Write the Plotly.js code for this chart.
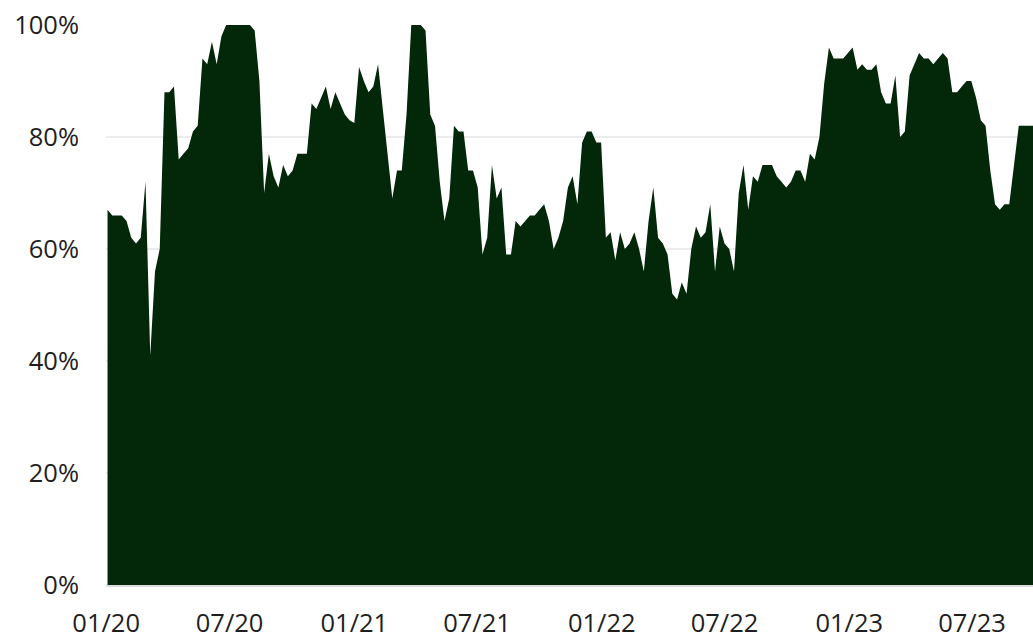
<!DOCTYPE html>
<html>
<head>
<meta charset="utf-8">
<script src="https://cdn.plot.ly/plotly-3.0.1.min.js"></script>
<style>
  html, body { margin: 0; padding: 0; background: #ffffff; }
  #chart { width: 1033px; height: 638px; }
</style>
</head>
<body>
<div id="chart"></div>
<script>
// Weekly series start (first observation)
const startDate = '2020-01-03';
// Share of value, in percent, one value per week
const values = [
  67, 66, 66, 66, 65, 62, 61, 62, 72, 41,
  56, 60, 88, 88, 89, 76, 77, 78, 81, 82,
  94, 93, 97, 93, 98, 100, 100, 100, 100, 100,
  100, 99, 90, 70, 77, 73, 71, 75, 73, 74,
  77, 77, 77, 86, 85, 87, 89, 85, 88, 86,
  84, 83, 82.5, 92.5, 90, 88, 89, 93, 85, 77,
  69, 74, 74, 84, 100, 100, 100, 99, 84, 82,
  72, 65, 69, 82, 81, 81, 74, 74, 71, 59,
  62, 75, 69, 71, 59, 59, 65, 64, 65, 66,
  66, 67, 68, 65, 60, 62, 65, 71, 73, 68,
  79, 81, 81, 79, 79, 62, 63, 58, 63, 60,
  61, 63, 60, 56, 65, 71, 62, 61, 59, 52,
  51, 54, 52, 60, 64, 62, 63, 68, 56, 64,
  61, 60, 56, 70, 75, 67, 73, 72, 75, 75,
  75, 73, 72, 71, 72, 74, 74, 72, 77, 76,
  80, 89.5, 96, 94, 94, 94, 95, 96, 92, 93,
  92, 92, 93, 88, 86, 86, 91, 80, 81, 91,
  93, 95, 94, 94, 93, 94, 95, 94, 88, 88,
  89, 90, 90, 87, 83, 82, 74, 68, 67, 68,
  68, 75, 82, 82, 82, 82
];
const yTickValues = [0, 20, 40, 60, 80, 100];
const yTickLabels = ['0%', '20%', '40%', '60%', '80%', '100%'];
const xTickValues = ['2020-01-01', '2020-07-01', '2021-01-01', '2021-07-01', '2022-01-01', '2022-07-01', '2023-01-01', '2023-07-01'];
const xTickLabels = ['01/20', '07/20', '01/21', '07/21', '01/22', '07/22', '01/23', '07/23'];

// weekly date index for the series
const dates = [];
const d0 = new Date(startDate + 'T00:00:00Z');
for (let i = 0; i < values.length; i++) {
  const d = new Date(d0.getTime() + i * 7 * 86400000);
  dates.push(d.toISOString().slice(0, 10));
}

const trace = {
  x: dates,
  y: values,
  type: 'scatter',
  mode: 'none',
  fill: 'tozeroy',
  fillcolor: '#022709',
  hoverinfo: 'skip'
};

const font = { family: '"Open Sans", sans-serif', size: 25.5, color: '#1e1e1e' };

const layout = {
  width: 1033,
  height: 638,
  margin: { l: 106, r: 0, t: 25, b: 53 },
  paper_bgcolor: '#ffffff',
  plot_bgcolor: '#ffffff',
  showlegend: false,
  font: font,
  xaxis: {
    type: 'date',
    range: ['2019-12-31 18:00', dates[dates.length - 1]],
    tickmode: 'array',
    tickvals: xTickValues,
    ticktext: xTickLabels,
    showgrid: false,
    zeroline: false,
    showline: true,
    linecolor: '#dcdcdc',
    linewidth: 1.5,
    ticks: '',
    ticklabelstandoff: 15,
    tickfont: font,
    fixedrange: true
  },
  yaxis: {
    range: [0, 100],
    tickmode: 'array',
    tickvals: yTickValues,
    ticktext: yTickLabels,
    showgrid: true,
    gridcolor: '#ececec',
    gridwidth: 1.5,
    zeroline: false,
    showline: false,
    ticks: '',
    ticklabelstandoff: 26,
    tickfont: font,
    fixedrange: true
  }
};

Plotly.newPlot('chart', [trace], layout, { displayModeBar: false, staticPlot: true });
</script>
</body>
</html>
